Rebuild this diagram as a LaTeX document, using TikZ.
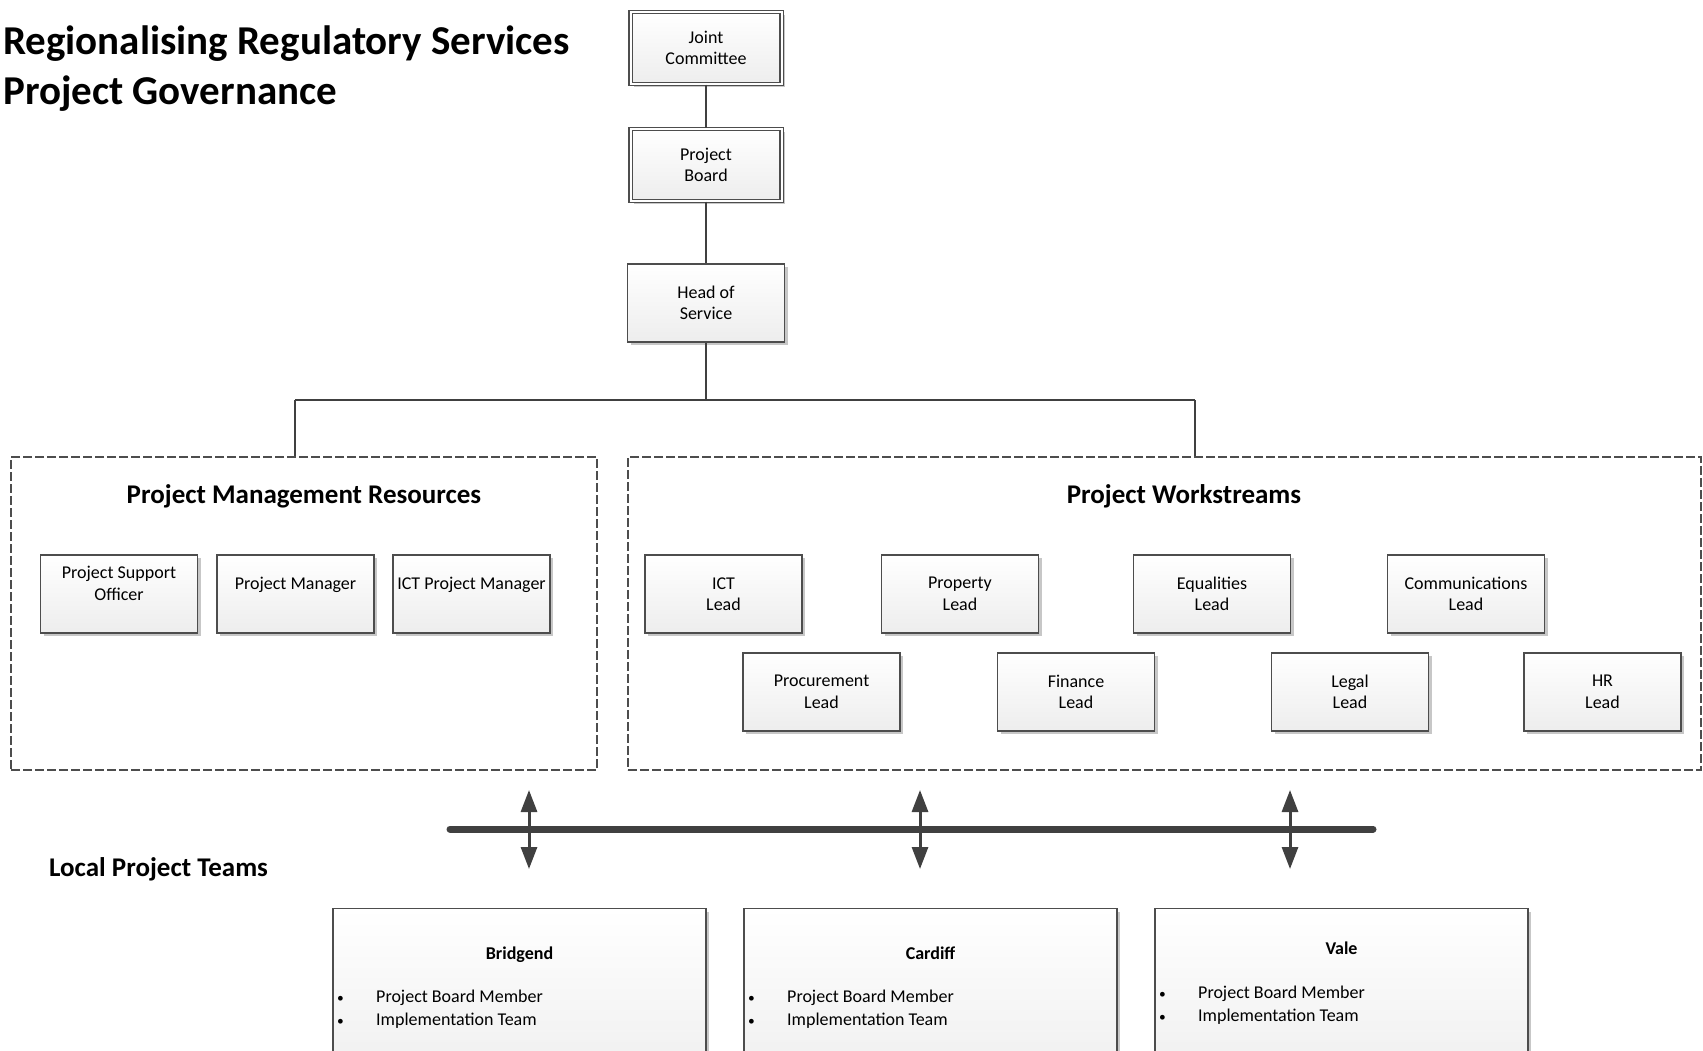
\documentclass[tikz,border=0pt]{standalone}
\usepackage{fontspec}
\setmainfont{Carlito}
\usetikzlibrary{arrows.meta, positioning, shadows}
\definecolor{boxline}{RGB}{77,77,77}
\definecolor{barcolor}{RGB}{64,64,64}
\newcommand{\teambullet}{\makebox[39pt][l]{\scalebox{0.75}{\textbullet}}}

\begin{document}
\begin{tikzpicture}[x=1pt, y=-1pt,
  role/.style={rectangle, draw=boxline, line width=1.4pt, top color=white, bottom color=black!7,
               drop shadow={shadow xshift=3pt, shadow yshift=-3pt, fill=black!22, opacity=1},
               minimum width=157pt, minimum height=78pt, inner sep=0pt, align=center,
               font=\fontsize{18}{21.5}\selectfont},
  board/.style={role, double, double distance=2pt, line width=1.2pt,
                minimum width=151pt, minimum height=72pt},
  group/.style={rectangle, draw=boxline, dashed, dash pattern=on 9pt off 3pt,
                line width=1.3pt, inner sep=0pt},
  heading/.style={inner sep=0pt, font=\fontsize{27}{33}\selectfont\bfseries},
  team/.style={role, anchor=north, minimum width=373pt, minimum height=190pt},
  teamtitle/.style={inner sep=0pt, anchor=base, font=\fontsize{18}{23}\selectfont\bfseries},
  teamlist/.style={inner sep=0pt, anchor=west, align=left, font=\fontsize{18}{23}\selectfont},
  conn/.style={draw=barcolor, line width=2pt},
  bar/.style={draw=barcolor, line width=7pt, line cap=round},
  twoway/.style={{Triangle[width=16pt,length=22pt]}-{Triangle[width=16pt,length=22pt]},
                 draw=barcolor, line width=3pt}
]
  \useasboundingbox (0,0) rectangle (1703,1051);
  \clip (0,0) rectangle (1703,1051);

  % Title
  \node[inner sep=0pt, anchor=base west, font=\fontsize{41}{50}\selectfont\bfseries]
        (ttl1) at (3, 55)  {Regionalising Regulatory Services};
  \node[inner sep=0pt, anchor=base west, font=\fontsize{41}{50}\selectfont\bfseries]
        (ttl2) at (3, 105) {Project Governance};

  % Governance chain
  \node[board] (jc)  at (706, 48)  {Joint\\Committee};
  \node[board] (pb)  at (706, 165) {Project\\Board};
  \node[role]  (hos) at (706, 303) {Head of\\Service};

  % Groups
  \node[group, minimum width=586pt,  minimum height=313pt] (pmr) at (304, 613.5)  {};
  \node[group, minimum width=1073pt, minimum height=313pt] (pws) at (1164.5, 613.5) {};
  \node[heading] (pmrh) at (304, 496)  {Project Management Resources};
  \node[heading] (pwsh) at (1184, 496) {Project Workstreams};

  % Project management resources
  \node[role] (pso)   at (119, 594)   {Project Support\\Officer\\\mbox{}};
  \node[role] (pm)    at (295.5, 594) {Project Manager\\\mbox{}};
  \node[role] (ictpm) at (471.5, 594) {ICT Project Manager\\\mbox{}};

  % Workstream leads, upper row
  \node[role] (ict)  at (723.5, 594) {ICT\\Lead};
  \node[role] (prop) at (960, 594)   {Property\\Lead};
  \node[role] (eq)   at (1212, 594)  {Equalities\\Lead};
  \node[role] (comm) at (1466, 594)  {Communications\\Lead};

  % Workstream leads, lower row
  \node[role] (proc)  at (821.5, 692)  {Procurement\\Lead};
  \node[role] (fin)   at (1076, 692)   {Finance\\Lead};
  \node[role] (legal) at (1350, 692)   {Legal\\Lead};
  \node[role] (hr)    at (1602.5, 692) {HR\\Lead};

  % ── Connectors ────────────────────────────────────────────────────────
  \coordinate (busL) at (295, 400);
  \coordinate (busR) at (1195, 400);
  \draw[conn] (jc) -- (pb);
  \draw[conn] (pb) -- (hos);
  \draw[conn] (hos.south) -- (hos.south |- busL);
  \draw[conn] (busL) -- (busR);
  \draw[conn] (busL) -- (busL |- pmr.north);
  \draw[conn] (busR) -- (busR |- pws.north);

  % Local project teams
  \node[heading, anchor=west] (lpt) at (49, 869) {Local Project Teams};

  \coordinate (barL) at (450, 829);
  \coordinate (barR) at (1373, 829);
  \draw[bar] (barL) -- (barR);
  \foreach \ax [count=\i] in {529, 920, 1290} {
    \coordinate (up\i) at (\ax, 790);
    \coordinate (dn\i) at (\ax, 869);
    \draw[twoway] (up\i) -- (dn\i);
  }

  \node[team] (br) at (519.5, 908)  {};
  \node[team] (cf) at (930.5, 908)  {};
  \node[team] (vl) at (1341.5, 908) {};

  \node[teamtitle] (brt) at (519.5, 959)  {Bridgend};
  \node[teamtitle] (cft) at (930.5, 959)  {Cardiff};
  \node[teamtitle] (vlt) at (1341.5, 954) {Vale};

  \node[teamlist] (brl) at (337, 1009.5)
        {\teambullet Project Board Member\\\teambullet Implementation Team};
  \node[teamlist] (cfl) at (748, 1009.5)
        {\teambullet Project Board Member\\\teambullet Implementation Team};
  \node[teamlist] (vll) at (1159, 1005)
        {\teambullet Project Board Member\\\teambullet Implementation Team};

\end{tikzpicture}
\end{document}
